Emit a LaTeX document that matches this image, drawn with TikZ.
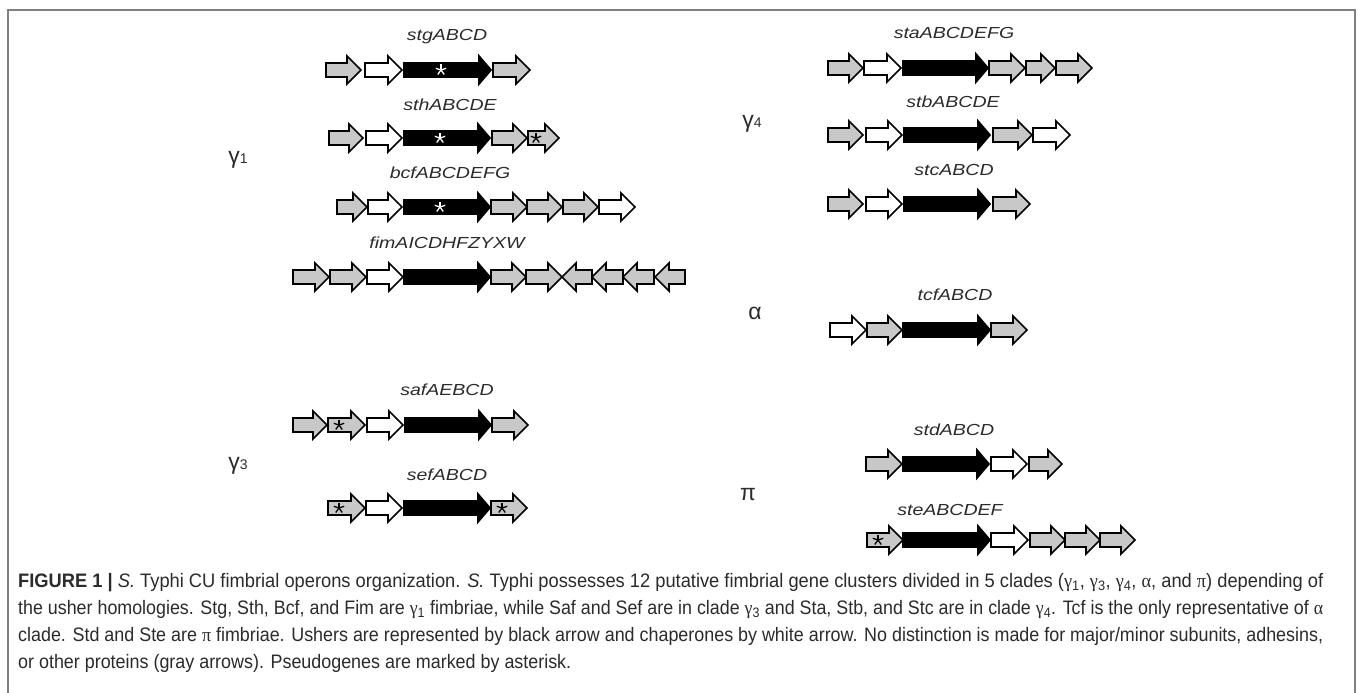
\documentclass[tikz,border=0pt]{standalone}
\usepackage{fontspec}
\usepackage{graphicx}
\setmainfont{Liberation Sans}
\newfontfamily\genefont[FakeStretch=1.22]{Liberation Sans}
\newfontfamily\cladefont{Liberation Sans}
\newfontfamily\capfont{Liberation Sans}
\newfontfamily\greekfont{Liberation Serif}

\definecolor{genegray}{HTML}{C8C8C8}
\definecolor{framegray}{HTML}{808080}
\definecolor{ink}{HTML}{2B2B2B}

% gene arrows: right-pointing (tail x0, tip x1) and left-pointing (tip x0, tail x1)
\newcommand\arrowR[5]{%
  \draw[#1] (#2,#4-7) -- (#3-#5,#4-7) -- (#3-#5,#4-14) -- (#3,#4)
    -- (#3-#5,#4+14) -- (#3-#5,#4+7) -- (#2,#4+7) -- cycle;}
\newcommand\gR[4]{\arrowR{#1}{#2}{#3}{#4}{14}}
\newcommand\uR[3]{\arrowR{usher}{#1}{#2}{#3}{12}}
\newcommand\gL[4]{%
  \draw[#1] (#3,#4-7) -- (#2+14,#4-7) -- (#2+14,#4-14) -- (#2,#4)
    -- (#2+14,#4+14) -- (#2+14,#4+7) -- (#3,#4+7) -- cycle;}
% asterisk marking a pseudogene
\newcommand\pseudomark[3]{%
  \foreach \a in {90,162,234,306,378}
    \draw[#3, line width=1.3pt] (#1,#2) -- ++(\a:5.5pt);}

\newcommand\grk[1]{{\greekfont #1}}
\newcommand\capsize{\capfont\fontsize{19.5}{22}\selectfont}
\newsavebox\capbox
\newcommand\capfit[1]{%
  \sbox\capbox{\capsize #1}%
  \pgfmathsetmacro\capscale{1305/\the\wd\capbox}%
  \global\let\lastcapscale\capscale
  \scalebox{\capscale}[1]{\usebox\capbox}}
\newcommand\capnat[1]{\scalebox{\lastcapscale}[1]{\capsize #1}}

\tikzset{
  gg/.style={draw=black, line width=1.7pt, fill=genegray},
  gw/.style={draw=black, line width=1.7pt, fill=white},
  usher/.style={draw=black, line width=1.7pt, fill=black},
  genelabel/.style={font=\genefont\itshape\fontsize{16}{16}\selectfont, text=ink, inner sep=0pt},
  clade/.style={font=\cladefont\fontsize{23}{23}\selectfont, text=ink, inner sep=0pt},
  capline/.style={anchor=base west, inner sep=0pt, text=ink},
}

\begin{document}
\begin{tikzpicture}[x=1pt, y=-1pt, line join=miter]
\useasboundingbox (0,0) rectangle (1358,693);
\fill[white] (0,0) rectangle (1358,693);

% frame
\draw[framegray, line width=2pt] (8,693) -- (8,10) -- (1355,10) -- (1355,693);

% clade labels
\node[clade] (g1) at (238,160) {γ{\fontsize{14}{14}\selectfont 1}};
\node[clade] (g3) at (238,466) {γ{\fontsize{14}{14}\selectfont 3}};
\node[clade] (g4) at (752,124) {γ{\fontsize{14}{14}\selectfont 4}};
\node[clade] (ca) at (755,313) {α};
\node[clade] (cp) at (748,495) {π};

% ---- gamma 1 ----
\node[genelabel] (stg) at (447,37) {stgABCD};
\gR{gg}{326}{361}{70} \gR{gw}{365}{402}{70} \uR{404}{491}{70} \gR{gg}{493}{530}{70}
\pseudomark{441}{70}{white}

\node[genelabel] (sth) at (450,105) {sthABCDE};
\gR{gg}{329}{363}{138} \gR{gw}{366}{402}{138} \uR{404}{490}{138} \gR{gg}{492}{527}{138} \gR{gg}{528}{559}{138}
\pseudomark{440}{138}{white} \pseudomark{536}{138}{black}

\node[genelabel] (bcf) at (450,173) {bcfABCDEFG};
\gR{gg}{337}{367}{207} \gR{gw}{368}{402}{207} \uR{404}{490}{207} \gR{gg}{491}{527}{207}
\gR{gg}{527}{562}{207} \gR{gg}{563}{598}{207} \gR{gw}{599}{635}{207}
\pseudomark{440}{207}{white}

\node[genelabel] (fim) at (447,243) {fimAICDHFZYXW};
\gR{gg}{293}{329}{277} \gR{gg}{330}{366}{277} \gR{gw}{367}{403}{277} \uR{404}{490}{277}
\gR{gg}{491}{526}{277} \gR{gg}{526}{562}{277}
\gL{gg}{562}{592}{277} \gL{gg}{592}{623}{277} \gL{gg}{623}{654}{277} \gL{gg}{655}{685}{277}

% ---- gamma 3 ----
\node[genelabel] (saf) at (447,390) {safAEBCD};
\gR{gg}{293}{327}{425} \gR{gg}{328}{365}{425} \gR{gw}{367}{403}{425} \uR{405}{491}{425} \gR{gg}{492}{528}{425}
\pseudomark{339}{425}{black}

\node[genelabel] (sef) at (447,475) {sefABCD};
\gR{gg}{328}{365}{508} \gR{gw}{366}{402}{508} \uR{404}{490}{508} \gR{gg}{491}{527}{508}
\pseudomark{339}{508}{black} \pseudomark{502}{508}{black}

% ---- gamma 4 ----
\node[genelabel] (sta) at (954,33) {staABCDEFG};
\gR{gg}{828}{863}{68} \gR{gw}{864}{901}{68} \uR{903}{988}{68} \gR{gg}{989}{1025}{68}
\gR{gg}{1026}{1055}{68} \gR{gg}{1056}{1092}{68}

\node[genelabel] (stb) at (953,102) {stbABCDE};
\gR{gg}{828}{863}{135} \gR{gw}{866}{902}{135} \uR{904}{990}{135} \gR{gg}{993}{1032}{135} \gR{gw}{1033}{1070}{135}

\node[genelabel] (stc) at (954,170) {stcABCD};
\gR{gg}{828}{863}{204} \gR{gw}{866}{902}{204} \uR{904}{990}{204} \gR{gg}{993}{1030}{204}

% ---- alpha ----
\node[genelabel] (tcf) at (955,295) {tcfABCD};
\gR{gw}{830}{866}{330} \gR{gg}{867}{902}{330} \uR{903}{990}{330} \gR{gg}{991}{1027}{330}

% ---- pi ----
\node[genelabel] (std) at (954,430) {stdABCD};
\gR{gg}{866}{902}{464} \uR{903}{989}{464} \gR{gw}{991}{1027}{464} \gR{gg}{1029}{1062}{464}

\node[genelabel] (ste) at (950,510) {steABCDEF};
\gR{gg}{867}{903}{540} \uR{903}{990}{540} \gR{gw}{991}{1028}{540} \gR{gg}{1030}{1065}{540}
\gR{gg}{1065}{1100}{540} \gR{gg}{1100}{1135}{540}
\pseudomark{878}{540}{black}

% ---- caption ----
\node[capline] (cap1) at (18,587) {\capfit{{\bfseries FIGURE 1 |} \textit{S.} Typhi CU fimbrial operons organization. \textit{S.} Typhi possesses 12 putative fimbrial gene clusters divided in 5 clades (\grk{γ}\textsubscript{1}, \grk{γ}\textsubscript{3}, \grk{γ}\textsubscript{4}, \grk{α}, and \grk{π}) depending of}};
\node[capline] (cap2) at (18,614) {\capfit{the usher homologies. Stg, Sth, Bcf, and Fim are \grk{γ}\textsubscript{1} fimbriae, while Saf and Sef are in clade \grk{γ}\textsubscript{3} and Sta, Stb, and Stc are in clade \grk{γ}\textsubscript{4}. Tcf is the only representative of \grk{α}}};
\node[capline] (cap3) at (18,641) {\capfit{clade. Std and Ste are \grk{π} fimbriae. Ushers are represented by black arrow and chaperones by white arrow. No distinction is made for major/minor subunits, adhesins,}};
\node[capline] (cap4) at (18,668) {\capnat{or other proteins (gray arrows). Pseudogenes are marked by asterisk.}};
\end{tikzpicture}
\end{document}
